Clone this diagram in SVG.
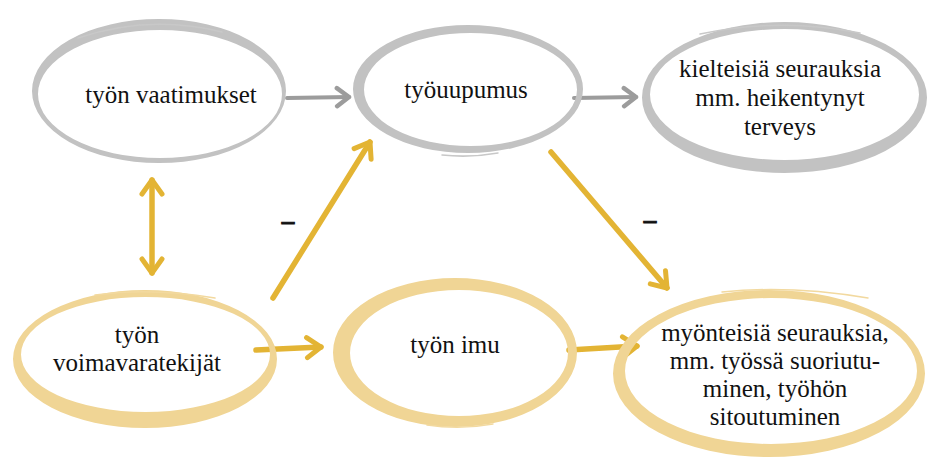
<svg xmlns="http://www.w3.org/2000/svg" width="927" height="461" viewBox="0 0 927 461">
  <style>
    .ring-g { fill: #c2c2c2; fill-rule: evenodd; }
    .ring-y { fill: #f0d595; fill-rule: evenodd; }
    .wisp-g { fill: none; stroke: #c8c8c8; stroke-width: 1.5; stroke-linecap: round; }
    .wisp-y { fill: none; stroke: #f2d99f; stroke-width: 1.5; stroke-linecap: round; }
    .arr-g { fill: none; stroke: #9c9c9c; stroke-width: 4; stroke-linecap: round; }
    .arr-y { fill: none; stroke: #e3b434; stroke-width: 5.5; stroke-linecap: round; }
    .sign { font-weight: bold; stroke: #111111; stroke-width: 1; }
  </style>
  <defs>
    <marker id="headG" markerUnits="userSpaceOnUse" viewBox="-16 -12 20 24" markerWidth="20" markerHeight="24" refX="0" refY="0" orient="auto">
      <path d="M -12,-9 L 0,0 L -12,9" fill="none" stroke="#9c9c9c" stroke-width="4.5" stroke-linecap="round" stroke-linejoin="round"/>
    </marker>
    <marker id="headY" markerUnits="userSpaceOnUse" viewBox="-18 -13 22 26" markerWidth="22" markerHeight="26" refX="0" refY="0" orient="auto-start-reverse">
      <path d="M -14,-10 L 0,0 L -14,10" fill="none" stroke="#e3b434" stroke-width="5" stroke-linecap="round" stroke-linejoin="round"/>
    </marker>
  </defs>

  <rect width="927" height="461" fill="#ffffff"/>

  <g font-family="Liberation Serif, DejaVu Serif, serif" font-size="25" fill="#111111" text-anchor="middle">

  <!-- connectors -->
  <g id="connectors">
    <path class="arr-g" d="M 287,98 L 349,97" marker-end="url(#headG)"/>
    <path class="arr-g" d="M 574,98 L 636,97" marker-end="url(#headG)"/>
    <path class="arr-y" d="M 152,180 L 152,273" marker-start="url(#headY)" marker-end="url(#headY)"/>
    <path class="arr-y" d="M 273,298 L 370,142" marker-end="url(#headY)"/>
    <path class="arr-y" d="M 551,152 L 667,288" marker-end="url(#headY)"/>
    <path class="arr-y" d="M 256,350 L 321,347" marker-end="url(#headY)"/>
    <path class="arr-y" d="M 569,350 L 637,346" marker-end="url(#headY)"/>
    <text class="sign" x="288" y="229">–</text>
    <text class="sign" x="650" y="228">–</text>
  </g>

  <!-- työn vaatimukset -->
  <g id="node-vaatimukset">
    <path class="ring-g" d="M 32,91 A 127,72 0 1,0 286,91 A 127,72 0 1,0 32,91 Z M 38,94 A 122,64 0 1,0 282,94 A 122,64 0 1,0 38,94 Z"/>
    <path class="wisp-g" d="M 78,38 Q 150,14 222,32"/>
    <text x="171" y="103">työn vaatimukset</text>
  </g>

  <!-- työuupumus -->
  <g id="node-tyouupumus">
    <path class="ring-g" d="M 353,89 A 115,64 0 1,0 583,89 A 115,64 0 1,0 353,89 Z M 364,89.5 A 106.5,56.5 0 1,0 577,89.5 A 106.5,56.5 0 1,0 364,89.5 Z"/>
    <path class="wisp-g" d="M 442,155 Q 470,158 498,153" stroke-width="3"/>
    <text x="466" y="98">työuupumus</text>
  </g>

  <!-- kielteisiä seurauksia -->
  <g id="node-kielteisia">
    <path class="ring-g" d="M 642,97.5 A 142.5,75.5 0 1,0 927,97.5 A 142.5,75.5 0 1,0 642,97.5 Z M 650,94.5 A 134.5,65.5 0 1,0 919,94.5 A 134.5,65.5 0 1,0 650,94.5 Z"/>
    <path class="wisp-g" d="M 700,34 Q 780,17 860,33"/>
    <text x="780" y="77">kielteisiä seurauksia</text>
    <text x="780" y="106">mm. heikentynyt</text>
    <text x="780" y="135">terveys</text>
  </g>

  <!-- työn voimavaratekijät -->
  <g id="node-voimavarat">
    <path class="ring-y" d="M 13,359 A 132,69 0 1,0 277,359 A 132,69 0 1,0 13,359 Z M 21,354.5 A 124.5,57.5 0 1,0 270,354.5 A 124.5,57.5 0 1,0 21,354.5 Z"/>
    <path class="wisp-y" d="M 95,295 Q 150,287 215,298"/>
    <text x="137" y="343">työn</text>
    <text x="137" y="371">voimavaratekijät</text>
  </g>

  <!-- työn imu -->
  <g id="node-imu">
    <path class="ring-y" d="M 333,352.5 A 122,74.5 0 1,0 577,352.5 A 122,74.5 0 1,0 333,352.5 Z M 350,353 A 109,63 0 1,0 568,353 A 109,63 0 1,0 350,353 Z"/>
    <path class="wisp-y" d="M 427,425 Q 460,430 493,424" stroke-width="3"/>
    <text x="455" y="353">työn imu</text>
  </g>

  <!-- myönteisiä seurauksia -->
  <g id="node-myonteisia">
    <path class="ring-y" d="M 613,373.5 A 156,83.5 0 1,0 925,373.5 A 156,83.5 0 1,0 613,373.5 Z M 625,371 A 146,73 0 1,0 917,371 A 146,73 0 1,0 625,371 Z"/>
    <path class="wisp-y" d="M 722,292 Q 790,285 868,298"/>
    <text x="775" y="341">myönteisiä seurauksia,</text>
    <text x="775" y="369">mm. työssä suoriutu-</text>
    <text x="775" y="397">minen, työhön</text>
    <text x="775" y="425">sitoutuminen</text>
  </g>

  </g>
</svg>
